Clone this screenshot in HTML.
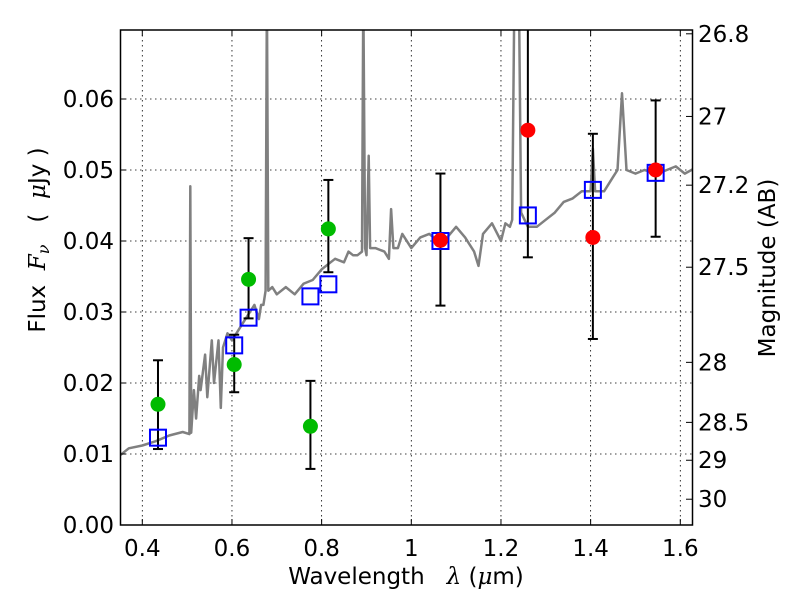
<!DOCTYPE html>
<html><head><meta charset="utf-8"><style>
body{margin:0;background:#fff}
svg{display:block;font-family:"DejaVu Sans","Liberation Sans",sans-serif}
</style></head><body>
<svg id="chart" width="800" height="600">
<defs><clipPath id="clip"><rect x="120.5" y="30" width="572" height="495"/></clipPath></defs>
<rect x="120.5" y="30" width="572" height="495" fill="#fff"/>
<g id="grid"></g>
<g id="spec" clip-path="url(#clip)"></g>
<g id="marks" clip-path="url(#clip)"></g>
<rect x="120.5" y="30" width="572" height="495" fill="none" stroke="#000" stroke-width="1.5"/>
<g id="axes"></g>
<text x="406" y="584" font-size="23" text-anchor="middle" xml:space="preserve">Wavelength   <tspan font-family="DejaVu Serif" font-style="italic">λ</tspan> (<tspan font-family="DejaVu Serif" font-style="italic">μ</tspan>m)</text>
<text transform="translate(45,240) rotate(-90)" font-size="23" text-anchor="middle" xml:space="preserve">Flux  <tspan font-family="DejaVu Serif" font-style="italic">F<tspan font-size="16" dy="4">ν</tspan></tspan><tspan dy="-4">   (  </tspan><tspan font-family="DejaVu Serif" font-style="italic">μ</tspan>Jy )</text>
<text transform="translate(775,268) rotate(-90)" font-size="23" text-anchor="middle">Magnitude (AB)</text>
</svg>
<script>
const xTicks=[0.4,0.6,0.8,1.0,1.2,1.4,1.6];
const xTickLabels=["0.4","0.6","0.8","1","1.2","1.4","1.6"];
const yTicks=[0,0.01,0.02,0.03,0.04,0.05,0.06];
const yTickLabels=["0.00","0.01","0.02","0.03","0.04","0.05","0.06"];
const magTicks=[26.8,27,27.2,27.5,28,28.5,29,30];
const magTickLabels=["26.8","27","27.2","27.5","28","28.5","29","30"];
const specWave=[0.35,0.37,0.40,0.43,0.46,0.49,0.505,0.507,0.509,0.515,0.52,0.527,0.53,0.54,0.545,0.555,0.56,0.57,0.575,0.58,0.59,0.60,0.62,0.64,0.65,0.66,0.665,0.67,0.675,0.678,0.681,0.69,0.70,0.72,0.74,0.76,0.78,0.80,0.82,0.83,0.85,0.86,0.87,0.88,0.89,0.893,0.897,0.90,0.905,0.908,0.92,0.94,0.95,0.955,0.96,0.97,0.98,1.0,1.02,1.04,1.06,1.08,1.10,1.12,1.14,1.15,1.16,1.18,1.20,1.21,1.22,1.225,1.23,1.24,1.245,1.26,1.28,1.30,1.32,1.34,1.36,1.38,1.40,1.405,1.41,1.43,1.45,1.46,1.47,1.48,1.50,1.52,1.55,1.57,1.59,1.61,1.64];
const specFlux=[0.0098,0.0108,0.0112,0.0118,0.0126,0.0131,0.0128,0.0477,0.013,0.019,0.015,0.021,0.019,0.024,0.018,0.026,0.020,0.026,0.0165,0.025,0.027,0.026,0.028,0.030,0.031,0.029,0.031,0.031,0.033,0.075,0.033,0.0335,0.0325,0.0335,0.0325,0.034,0.0345,0.036,0.037,0.0375,0.037,0.0385,0.038,0.038,0.0385,0.075,0.039,0.038,0.052,0.039,0.039,0.0385,0.0375,0.0445,0.039,0.039,0.041,0.039,0.0405,0.041,0.040,0.0405,0.042,0.0405,0.0385,0.0365,0.041,0.0425,0.040,0.0425,0.042,0.043,0.075,0.075,0.044,0.042,0.042,0.043,0.044,0.0455,0.046,0.047,0.047,0.053,0.047,0.047,0.049,0.050,0.0608,0.050,0.0495,0.050,0.0495,0.050,0.0505,0.0495,0.0505];
const greenWave=[0.435,0.605,0.637,0.775,0.815];
const greenFlux=[0.0170,0.0226,0.0346,0.0139,0.0417];
const greenLo=[0.0107,0.0187,0.0291,0.0079,0.0356];
const greenHi=[0.0232,0.0268,0.0404,0.0203,0.0486];
const redWave=[1.065,1.26,1.405,1.545];
const redFlux=[0.0401,0.0556,0.0405,0.0500];
const redLo=[0.0309,0.0377,0.0262,0.0406];
const redHi=[0.0495,0.0800,0.0551,0.0598];
const modelWave=[0.435,0.605,0.637,0.775,0.815,1.065,1.26,1.405,1.545];
const modelFlux=[0.0123,0.0253,0.0292,0.0322,0.0339,0.0400,0.0436,0.0472,0.0496];

const NS="http://www.w3.org/2000/svg";
const X=v=>142.3+(v-0.4)*(680.3-142.3)/1.2;
const Y=v=>525-v*7100;
const magY=m=>Y(Math.pow(10,(23.9-m)/2.5));
function mk(tag,attrs,parent,text){const e=document.createElementNS(NS,tag);for(const k in attrs)e.setAttribute(k,attrs[k]);if(text!==undefined)e.textContent=text;document.getElementById(parent).appendChild(e);return e;}

xTicks.forEach((t,i)=>{
  const gl=mk('line',{x1:X(t),x2:X(t),y1:30,y2:525,stroke:'#000','stroke-width':0.8,'stroke-dasharray':'1.5,3.5'},'grid');
  
  
  mk('line',{x1:X(t),x2:X(t),y1:525,y2:519,stroke:'#000'},'axes');
  mk('line',{x1:X(t),x2:X(t),y1:30,y2:36,stroke:'#000'},'axes');
  const lb=mk('text',{x:X(t),y:556,'font-size':23,'text-anchor':'middle'},'axes',xTickLabels[i]);
  
  
});
yTicks.forEach((t,i)=>{
  if(t>0){const gl=mk('line',{x1:120,x2:692,y1:Y(t),y2:Y(t),stroke:'#000','stroke-width':0.8,'stroke-dasharray':'1.5,3.5'},'grid');
  
  }
  mk('line',{x1:120,x2:126,y1:Y(t),y2:Y(t),stroke:'#000'},'axes');
  const lb=mk('text',{x:114,y:Y(t)+8,'font-size':23,'text-anchor':'end'},'axes',yTickLabels[i]);
  
  
});
magTicks.forEach((m,i)=>{
  const y=magY(m);
  mk('line',{x1:686,x2:692,y1:y,y2:y,stroke:'#000'},'axes');
  const lb=mk('text',{x:698,y:y+8,'font-size':23},'axes',magTickLabels[i]);
  
  
});
const pts=specWave.map((w,i)=>X(w).toFixed(1)+','+Y(specFlux[i]).toFixed(1)).join(' ');
const sp=mk('polyline',{points:pts,fill:'none',stroke:'#808080','stroke-width':2.5,'stroke-linejoin':'round'},'spec');


function errbar(w,lo,hi){
  mk('line',{x1:X(w),x2:X(w),y1:Y(lo),y2:Y(hi),stroke:'#000','stroke-width':2},'marks');
  mk('line',{x1:X(w)-5,x2:X(w)+5,y1:Y(lo),y2:Y(lo),stroke:'#000','stroke-width':2},'marks');
  mk('line',{x1:X(w)-5,x2:X(w)+5,y1:Y(hi),y2:Y(hi),stroke:'#000','stroke-width':2},'marks');
}
greenWave.forEach((w,i)=>errbar(w,greenLo[i],greenHi[i]));
redWave.forEach((w,i)=>errbar(w,redLo[i],redHi[i]));
modelWave.forEach((w,i)=>{
  const r=mk('rect',{x:X(w)-8,y:Y(modelFlux[i])-8,width:16,height:16,fill:'none',stroke:'#0000ff','stroke-width':2},'marks');
  
  
});
greenWave.forEach((w,i)=>{
  const c=mk('circle',{cx:X(w),cy:Y(greenFlux[i]),r:7.5,fill:'#00bb00'},'marks');
  
  
});
redWave.forEach((w,i)=>{
  const c=mk('circle',{cx:X(w),cy:Y(redFlux[i]),r:7.5,fill:'#ff0000'},'marks');
  
  
});
</script>
</body></html>
